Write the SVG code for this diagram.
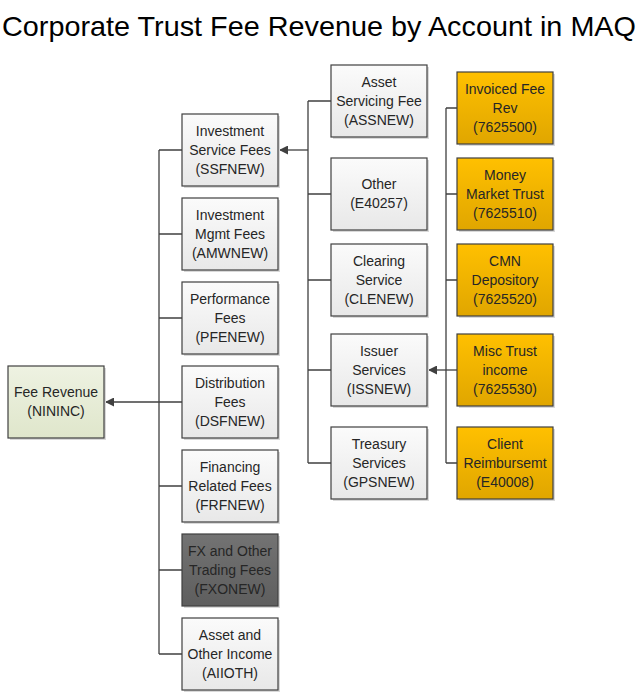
<svg xmlns="http://www.w3.org/2000/svg" width="640" height="693" viewBox="0 0 640 693">
<defs>
<linearGradient id="gGray" x1="0" y1="0" x2="0" y2="1"><stop offset="0" stop-color="#fbfbfb"/><stop offset="1" stop-color="#e8e8e8"/></linearGradient>
<linearGradient id="gOrange" x1="0" y1="0" x2="0" y2="1"><stop offset="0" stop-color="#ffc000"/><stop offset="1" stop-color="#e0a600"/></linearGradient>
<linearGradient id="gGreen" x1="0" y1="0" x2="0" y2="1"><stop offset="0" stop-color="#eef2e2"/><stop offset="1" stop-color="#dfe6cb"/></linearGradient>
<linearGradient id="gDark" x1="0" y1="0" x2="0" y2="1"><stop offset="0" stop-color="#737373"/><stop offset="1" stop-color="#5e5e5e"/></linearGradient>
<marker id="arr" viewBox="0 0 10 10" refX="10" refY="5" markerWidth="9" markerHeight="9" markerUnits="userSpaceOnUse" orient="auto"><path d="M0,0 L10,5 L0,10 z" fill="#404040"/></marker>
</defs>
<style>
text{font-family:"Liberation Sans",Arial,sans-serif;font-size:14px;fill:#262626;text-anchor:middle}
.title{font-size:28px;fill:#000;text-anchor:start}
.box{stroke:#404040;stroke-width:1.2}
.sh{fill:#d9d9d9}
.gray{fill:url(#gGray)}
.orange{fill:url(#gOrange)}
.green{fill:url(#gGreen)}
.dark{fill:url(#gDark)}
.ln{fill:none;stroke:#404040;stroke-width:1.3}
</style>
<rect width="640" height="693" fill="#fff"/>
<text class="title" x="2" y="36" textLength="634" lengthAdjust="spacingAndGlyphs">Corporate Trust Fee Revenue by Account in MAQ</text>

<g id="connectors">
<path class="ln" d="M159,150 V654 M159,150 H182 M159,234 H182 M159,318 H182 M159,402 H182 M159,486 H182 M159,570 H182 M159,654 H182"/>
<path class="ln" d="M159,402 H105" marker-end="url(#arr)"/>
<path class="ln" d="M308,101 V463 M308,101 H331 M308,194 H331 M308,280 H331 M308,370 H331 M308,463 H331"/>
<path class="ln" d="M308,150 H279" marker-end="url(#arr)"/>
<path class="ln" d="M446,108 V463 M446,108 H457 M446,194 H457 M446,280 H457 M446,463 H457"/>
<path class="ln" d="M457,370 H428" marker-end="url(#arr)"/>
</g>

<g id="n-nininc"><rect class="sh" x="10" y="368" width="96" height="72"/><rect class="box green" x="8" y="366" width="96" height="72"/><text x="56" y="397">Fee Revenue</text><text x="56" y="416">(NININC)</text></g>

<g id="n-ssfnew"><rect class="sh" x="184" y="116" width="96" height="72"/><rect class="box gray" x="182" y="114" width="96" height="72"/><text x="230" y="136">Investment</text><text x="230" y="155">Service Fees</text><text x="230" y="174">(SSFNEW)</text></g>
<g id="n-amwnew"><rect class="sh" x="184" y="200" width="96" height="72"/><rect class="box gray" x="182" y="198" width="96" height="72"/><text x="230" y="220">Investment</text><text x="230" y="239">Mgmt Fees</text><text x="230" y="258">(AMWNEW)</text></g>
<g id="n-pfenew"><rect class="sh" x="184" y="284" width="96" height="72"/><rect class="box gray" x="182" y="282" width="96" height="72"/><text x="230" y="304">Performance</text><text x="230" y="323">Fees</text><text x="230" y="342">(PFENEW)</text></g>
<g id="n-dsfnew"><rect class="sh" x="184" y="368" width="96" height="72"/><rect class="box gray" x="182" y="366" width="96" height="72"/><text x="230" y="388">Distribution</text><text x="230" y="407">Fees</text><text x="230" y="426">(DSFNEW)</text></g>
<g id="n-frfnew"><rect class="sh" x="184" y="452" width="96" height="72"/><rect class="box gray" x="182" y="450" width="96" height="72"/><text x="230" y="472">Financing</text><text x="230" y="491">Related Fees</text><text x="230" y="510">(FRFNEW)</text></g>
<g id="n-fxonew"><rect class="sh" x="184" y="536" width="96" height="72"/><rect class="box dark" x="182" y="534" width="96" height="72"/><text x="230" y="556">FX and Other</text><text x="230" y="575">Trading Fees</text><text x="230" y="594">(FXONEW)</text></g>
<g id="n-aiioth"><rect class="sh" x="184" y="620" width="96" height="72"/><rect class="box gray" x="182" y="618" width="96" height="72"/><text x="230" y="640">Asset and</text><text x="230" y="659">Other Income</text><text x="230" y="678">(AIIOTH)</text></g>

<g id="n-assnew"><rect class="sh" x="333" y="67" width="96" height="72"/><rect class="box gray" x="331" y="65" width="96" height="72"/><text x="379" y="87">Asset</text><text x="379" y="106">Servicing Fee</text><text x="379" y="125">(ASSNEW)</text></g>
<g id="n-e40257"><rect class="sh" x="333" y="160" width="96" height="72"/><rect class="box gray" x="331" y="158" width="96" height="72"/><text x="379" y="189">Other</text><text x="379" y="208">(E40257)</text></g>
<g id="n-clenew"><rect class="sh" x="333" y="246" width="96" height="72"/><rect class="box gray" x="331" y="244" width="96" height="72"/><text x="379" y="266">Clearing</text><text x="379" y="285">Service</text><text x="379" y="304">(CLENEW)</text></g>
<g id="n-issnew"><rect class="sh" x="333" y="336" width="96" height="72"/><rect class="box gray" x="331" y="334" width="96" height="72"/><text x="379" y="356">Issuer</text><text x="379" y="375">Services</text><text x="379" y="394">(ISSNEW)</text></g>
<g id="n-gpsnew"><rect class="sh" x="333" y="429" width="96" height="72"/><rect class="box gray" x="331" y="427" width="96" height="72"/><text x="379" y="449">Treasury</text><text x="379" y="468">Services</text><text x="379" y="487">(GPSNEW)</text></g>

<g id="n-7625500"><rect class="sh" x="459" y="74" width="96" height="72"/><rect class="box orange" x="457" y="72" width="96" height="72"/><text x="505" y="94">Invoiced Fee</text><text x="505" y="113">Rev</text><text x="505" y="132">(7625500)</text></g>
<g id="n-7625510"><rect class="sh" x="459" y="160" width="96" height="72"/><rect class="box orange" x="457" y="158" width="96" height="72"/><text x="505" y="180">Money</text><text x="505" y="199">Market Trust</text><text x="505" y="218">(7625510)</text></g>
<g id="n-7625520"><rect class="sh" x="459" y="246" width="96" height="72"/><rect class="box orange" x="457" y="244" width="96" height="72"/><text x="505" y="266">CMN</text><text x="505" y="285">Depository</text><text x="505" y="304">(7625520)</text></g>
<g id="n-7625530"><rect class="sh" x="459" y="336" width="96" height="72"/><rect class="box orange" x="457" y="334" width="96" height="72"/><text x="505" y="356">Misc Trust</text><text x="505" y="375">income</text><text x="505" y="394">(7625530)</text></g>
<g id="n-e40008"><rect class="sh" x="459" y="429" width="96" height="72"/><rect class="box orange" x="457" y="427" width="96" height="72"/><text x="505" y="449">Client</text><text x="505" y="468">Reimbursemt</text><text x="505" y="487">(E40008)</text></g>
</svg>
